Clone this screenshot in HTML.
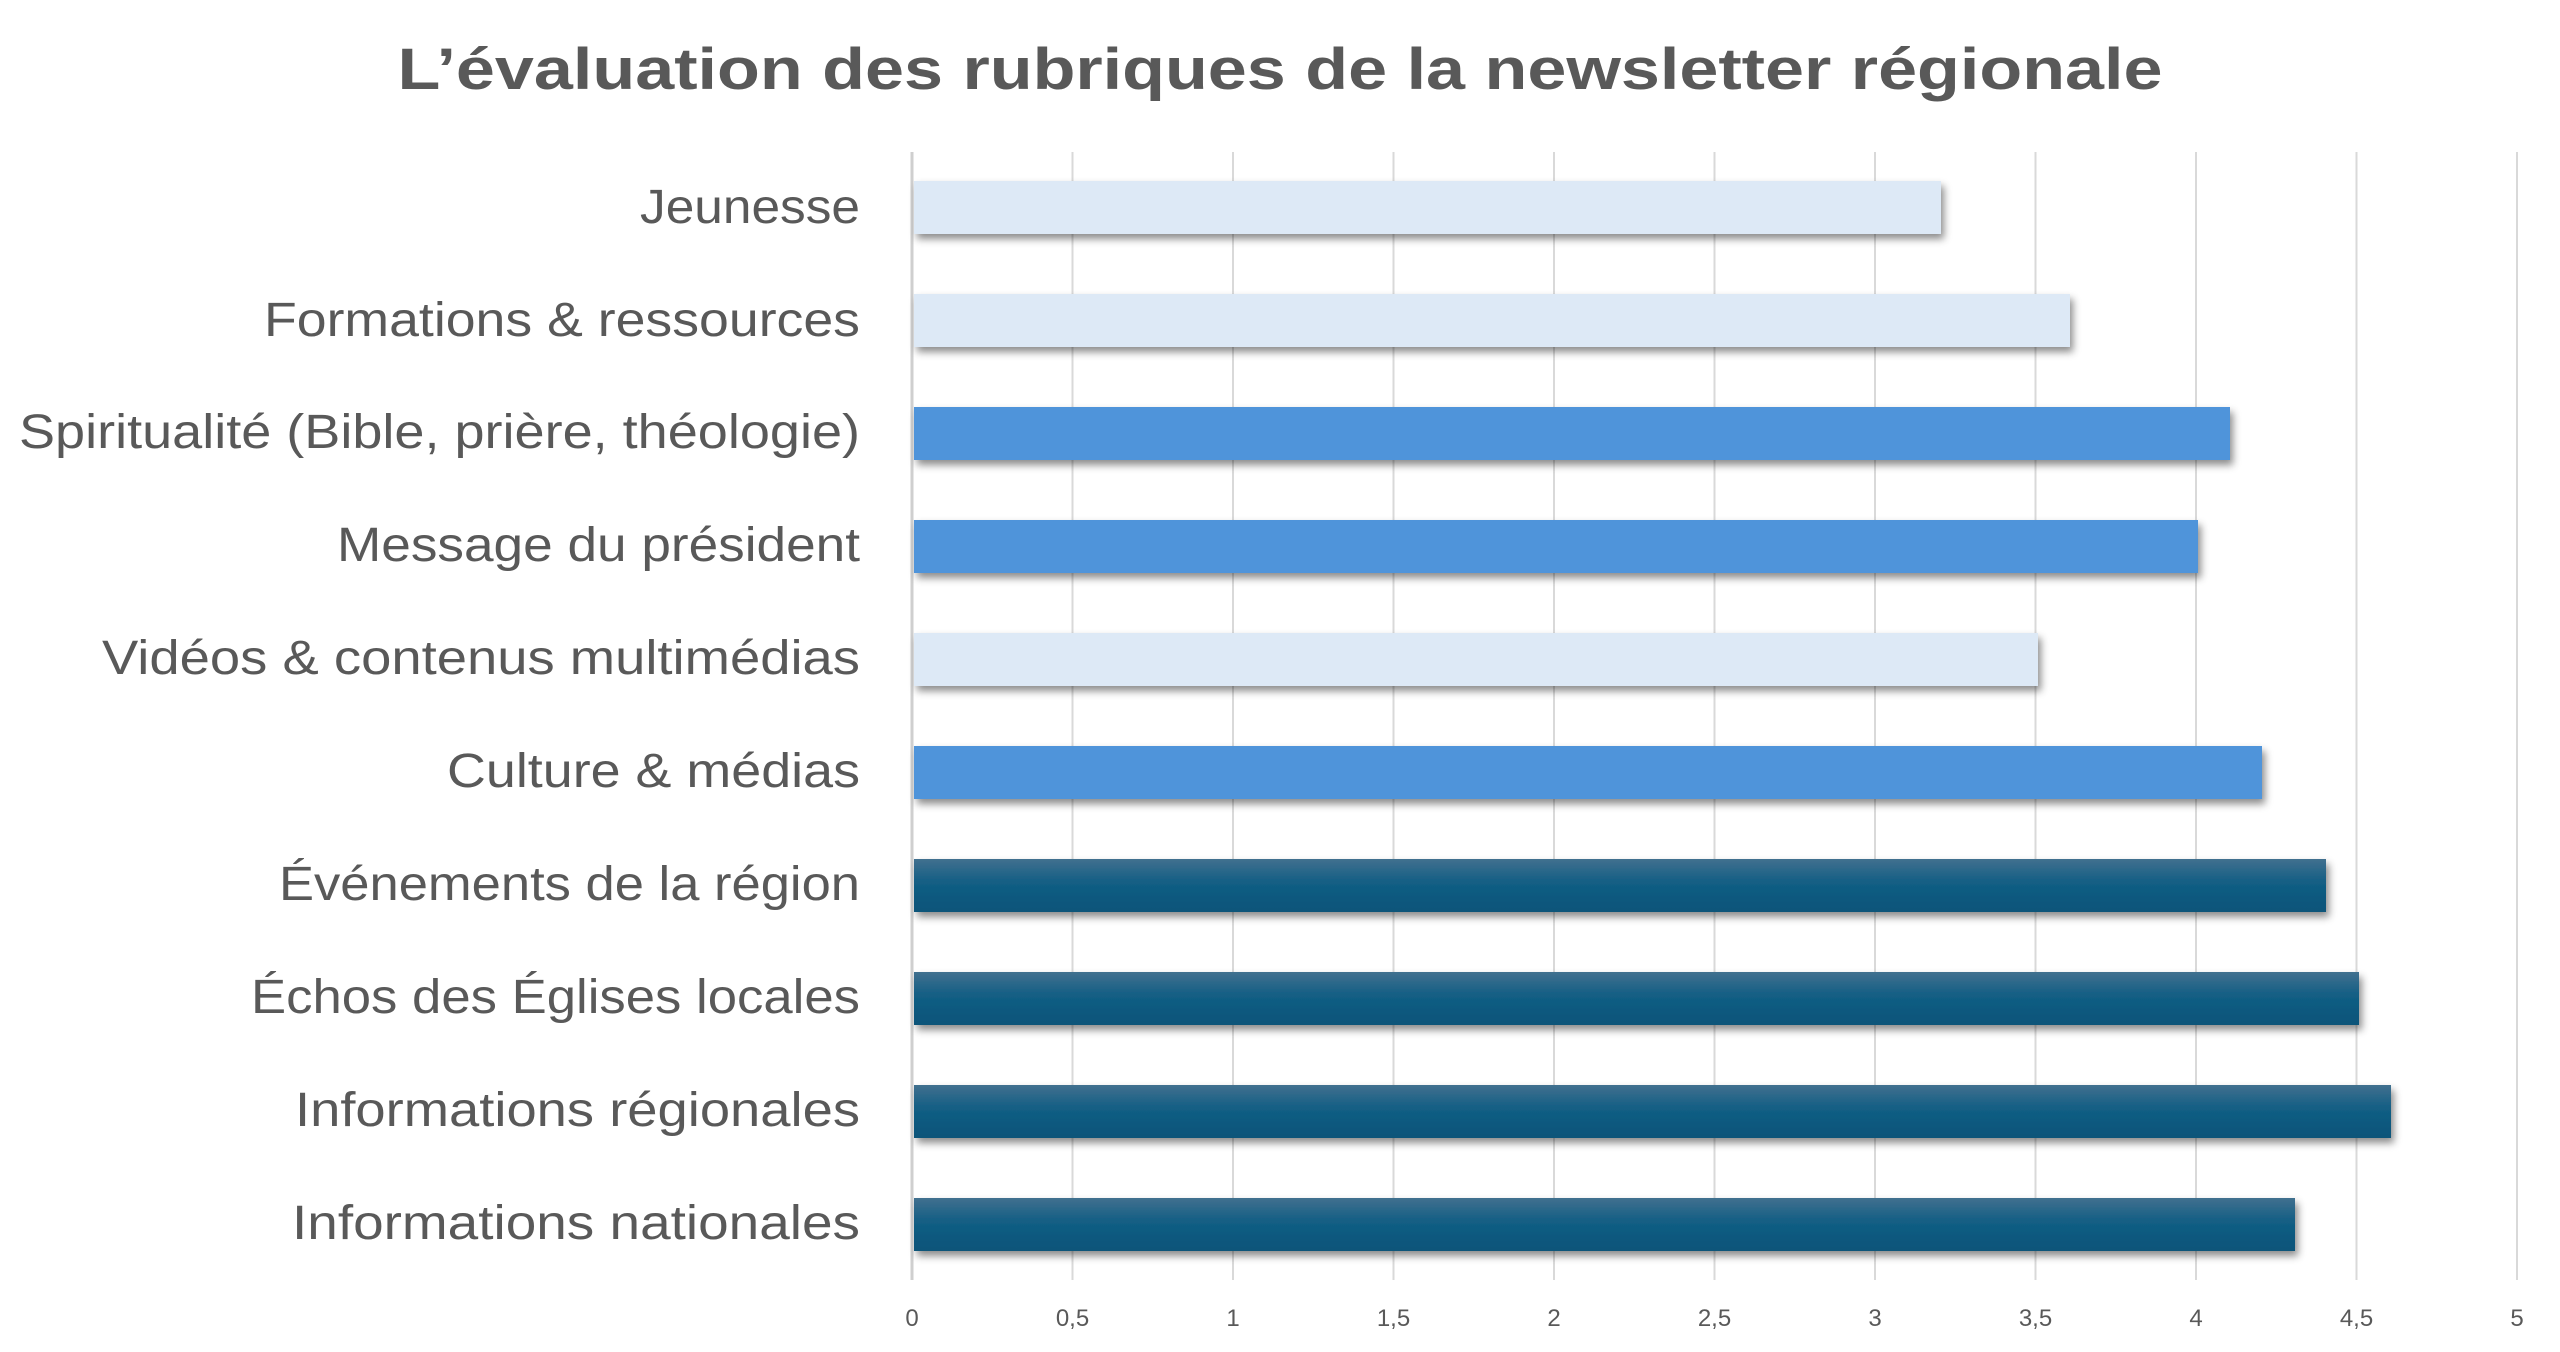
<!DOCTYPE html>
<html><head><meta charset="utf-8"><style>html,body{margin:0;padding:0;background:#fff}svg{display:block}</style></head>
<body>
<svg width="2560" height="1352" viewBox="0 0 2560 1352" xmlns="http://www.w3.org/2000/svg">
<defs>
<linearGradient id="dk" x1="0" y1="0" x2="0" y2="1"><stop offset="0" stop-color="#41708f"/><stop offset="0.45" stop-color="#125e84"/><stop offset="1" stop-color="#0b5479"/></linearGradient>
<filter id="sh" x="-5%" y="-30%" width="110%" height="180%"><feDropShadow dx="3" dy="5" stdDeviation="4" flood-color="#000" flood-opacity="0.45"/></filter>
</defs>
<rect width="2560" height="1352" fill="#fff"/>
<text x="1280" y="89" text-anchor="middle" font-family="Liberation Sans, sans-serif" font-weight="bold" font-size="58" fill="#595959" textLength="1765" lengthAdjust="spacingAndGlyphs">L’évaluation des rubriques de la newsletter régionale</text>
<g stroke="#d9d9d9" stroke-width="2">
<line x1="912" y1="152" x2="912" y2="1280" stroke="#cfcfcf" stroke-width="3"/>
<line x1="1072.5" y1="152" x2="1072.5" y2="1280"/><line x1="1233" y1="152" x2="1233" y2="1280"/>
<line x1="1393.5" y1="152" x2="1393.5" y2="1280"/><line x1="1554" y1="152" x2="1554" y2="1280"/>
<line x1="1714.5" y1="152" x2="1714.5" y2="1280"/><line x1="1875" y1="152" x2="1875" y2="1280"/>
<line x1="2035.5" y1="152" x2="2035.5" y2="1280"/><line x1="2196" y1="152" x2="2196" y2="1280"/>
<line x1="2356.5" y1="152" x2="2356.5" y2="1280"/><line x1="2517" y1="152" x2="2517" y2="1280"/>
</g>
<g font-family="Liberation Sans, sans-serif" font-size="24" fill="#595959" text-anchor="middle">
<text x="912" y="1326">0</text><text x="1072.5" y="1326">0,5</text><text x="1233" y="1326">1</text>
<text x="1393.5" y="1326">1,5</text><text x="1554" y="1326">2</text><text x="1714.5" y="1326">2,5</text>
<text x="1875" y="1326">3</text><text x="2035.5" y="1326">3,5</text><text x="2196" y="1326">4</text>
<text x="2356.5" y="1326">4,5</text><text x="2517" y="1326">5</text>
</g>
<g filter="url(#sh)">
<rect x="914" y="181" width="1027" height="53" fill="#dde9f6"/>
<rect x="914" y="294" width="1156" height="53" fill="#dde9f6"/>
<rect x="914" y="407" width="1316" height="53" fill="#4f94da"/>
<rect x="914" y="520" width="1284" height="53" fill="#4f94da"/>
<rect x="914" y="633" width="1124" height="53" fill="#dde9f6"/>
<rect x="914" y="746" width="1348" height="53" fill="#4f94da"/>
<rect x="914" y="859" width="1412" height="53" fill="url(#dk)"/>
<rect x="914" y="972" width="1445" height="53" fill="url(#dk)"/>
<rect x="914" y="1085" width="1477" height="53" fill="url(#dk)"/>
<rect x="914" y="1198" width="1381" height="53" fill="url(#dk)"/>
</g>
<g font-family="Liberation Sans, sans-serif" font-size="48" fill="#595959" text-anchor="end">
<text x="860" y="223" textLength="220" lengthAdjust="spacingAndGlyphs">Jeunesse</text>
<text x="860" y="336" textLength="596" lengthAdjust="spacingAndGlyphs">Formations &amp; ressources</text>
<text x="860" y="448" textLength="841" lengthAdjust="spacingAndGlyphs">Spiritualité (Bible, prière, théologie)</text>
<text x="860" y="561" textLength="523" lengthAdjust="spacingAndGlyphs">Message du président</text>
<text x="860" y="674" textLength="758" lengthAdjust="spacingAndGlyphs">Vidéos &amp; contenus multimédias</text>
<text x="860" y="787" textLength="413" lengthAdjust="spacingAndGlyphs">Culture &amp; médias</text>
<text x="860" y="900" textLength="581" lengthAdjust="spacingAndGlyphs">Événements de la région</text>
<text x="860" y="1013" textLength="609" lengthAdjust="spacingAndGlyphs">Échos des Églises locales</text>
<text x="860" y="1126" textLength="565" lengthAdjust="spacingAndGlyphs">Informations régionales</text>
<text x="860" y="1239" textLength="568" lengthAdjust="spacingAndGlyphs">Informations nationales</text>
</g>
</svg>
</body></html>
